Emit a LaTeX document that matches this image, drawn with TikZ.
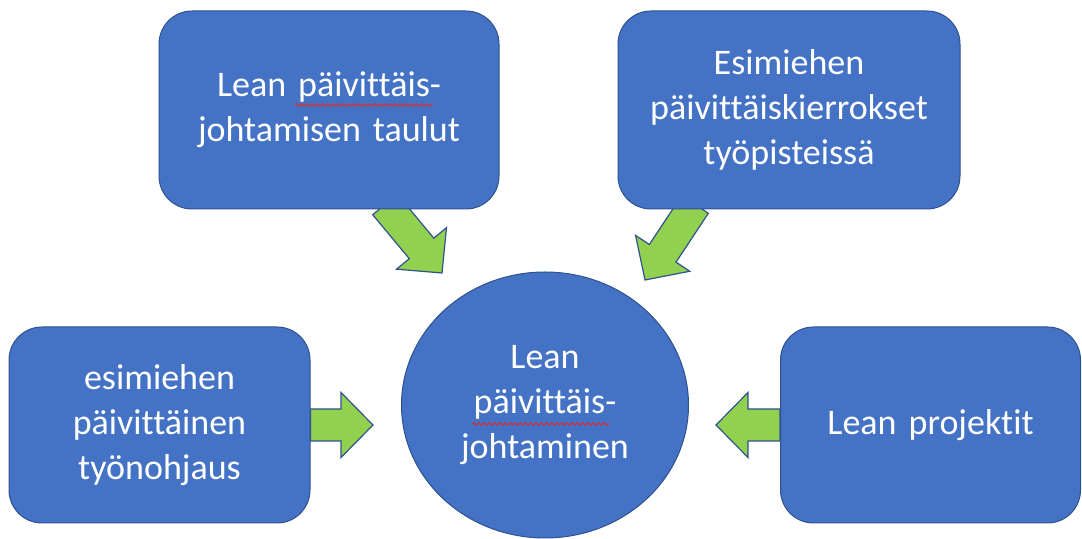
\documentclass[tikz,border=0pt]{standalone}
\usepackage{fontspec}
\setmainfont{Carlito}[Ligatures=NoCommon]
\usepackage{tikz}
\usetikzlibrary{shapes.geometric,positioning,calc,backgrounds,decorations.pathmorphing}
\definecolor{lnblue}{HTML}{4472C4}
\definecolor{lnedge}{HTML}{2F528F}
\definecolor{lngreen}{HTML}{92D050}
\definecolor{lnred}{HTML}{E02B2B}
\tikzset{
    leanbox/.style={rectangle, rounded corners=16.5pt,
        draw=lnedge, fill=lnblue, line width=0.5pt,
        minimum width=170pt, minimum height=99pt, inner sep=0pt,
        text width=140pt, align=center, text=white,
        font=\fontsize{18}{22.5}\selectfont},
    leanhub/.style={ellipse, draw=lnedge, fill=lnblue, line width=0.5pt,
        minimum width=143.5pt, minimum height=133pt, inner sep=0pt,
        align=center, text=white,
        font=\fontsize{18}{22.5}\selectfont},
    leanarrow/.style={draw=lnedge, fill=lngreen, line width=0.6pt, line join=miter},
    spellmark/.style={draw=lnred, line width=0.5pt, decorate,
        decoration={snake, amplitude=0.6pt, segment length=2.6pt}},
}
% block arrow from tail #1 to tip #2
\newcommand{\greenarrow}[2]{%
    \coordinate (ahead) at ($(#2)!16pt!(#1)$);
    \draw[leanarrow] ($(#1)!8pt!90:(#2)$) -- ($(ahead)!8pt!90:(#2)$)
        -- ($(ahead)!16.25pt!90:(#2)$) -- (#2)
        -- ($(ahead)!16.25pt!-90:(#2)$) -- ($(ahead)!8pt!-90:(#2)$)
        -- ($(#1)!8pt!-90:(#2)$) -- cycle;}

\begin{document}
\begin{tikzpicture}[x=0.5pt, y=-0.5pt]

    \useasboundingbox (0,0) rectangle (1082,539);

    % ── Hub ────────────────────────────────────────────────────────────────
    \node[leanhub] (hub) at (545,405)
        {Lean\\päivittäis-\\johtaminen};

    % ── Top boxes ──────────────────────────────────────────────────────────
    \node[leanbox] (tl) at (329,110)
        {Lean päivittäis-\\johtamisen taulut};
    \node[leanbox, minimum width=171pt] (tr) at (789,110)
        {Esimiehen\\päivittäiskierrokset\\työpisteissä};

    % ── Side boxes ─────────────────────────────────────────────────────────
    \node[leanbox, minimum width=150.5pt, minimum height=98pt] (lbox) at (159.5,425)
        {esimiehen\\päivittäinen\\työnohjaus};
    \node[leanbox, minimum width=150pt, minimum height=98pt] (rbox) at (930.5,425)
        {Lean projektit};

    % ── Arrow tips ─────────────────────────────────────────────────────────
    \coordinate (tltail) at ($(tl.south)+(56,-5)$);
    \coordinate (tltip)  at (442,273);
    \coordinate (trtail) at ($(tr.south)+(-94,-5)$);
    \coordinate (trtip)  at (645,280);
    \coordinate (ltip)   at (373,425);
    \coordinate (rtip)   at (716,425);

    % ── Arrows ─────────────────────────────────────────────────────────────
    \begin{scope}[on background layer]
        \greenarrow{tltail}{tltip}
        \greenarrow{trtail}{trtip}
        \greenarrow{lbox.east}{ltip}
        \greenarrow{rbox.west}{rtip}
    \end{scope}

    % ── Spell-check marks ──────────────────────────────────────────────────
    \draw[spellmark] ($(tl.center)+(-34,-5)$) -- ($(tl.center)+(104,-5)$);
    \draw[spellmark] ($(hub.center)+(-73,19)$) -- ($(hub.center)+(65,19)$);

\end{tikzpicture}
\end{document}
